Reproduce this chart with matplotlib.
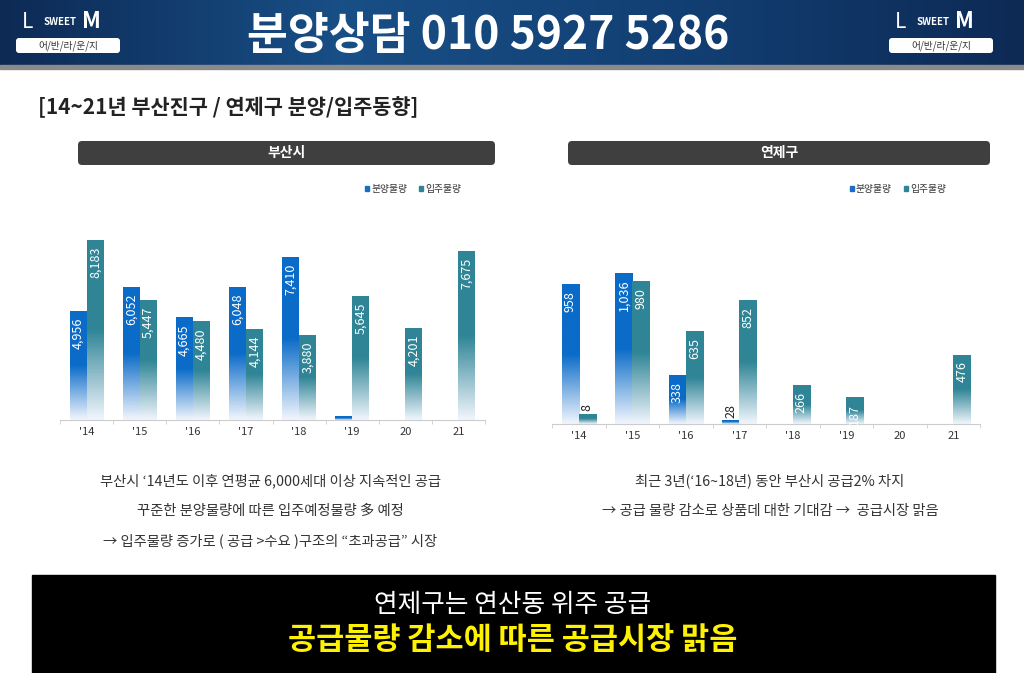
import matplotlib
matplotlib.use("Agg")
import matplotlib.pyplot as plt
from matplotlib import font_manager as fm
import numpy as np
from matplotlib.patches import FancyBboxPatch, Rectangle
from matplotlib.colors import LinearSegmentedColormap, to_rgb

_names = sorted({f.name for f in fm.fontManager.ttflist})
_cjk = [n for n in _names if "CJK" in n and "KR" in n] or [n for n in _names if "CJK" in n]
plt.rcParams["font.family"] = (_cjk[:1] or ["DejaVu Sans"]) + ["DejaVu Sans"]

years = ["'14", "'15", "'16", "'17", "'18", "'19", "20", "21"]
busan_sale = [4956, 6052, 4665, 6048, 7410, 180, 0, 0]
busan_move = [8183, 5447, 4480, 4144, 3880, 5645, 4201, 7675]
yj_sale = [958, 1036, 338, 28, 0, 0, 0, 0]
yj_move = [70, 980, 635, 852, 266, 187, 0, 476]
busan_sale_lbl = ["4,956", "6,052", "4,665", "6,048", "7,410", "", "", ""]
busan_move_lbl = ["8,183", "5,447", "4,480", "4,144", "3,880", "5,645", "4,201", "7,675"]
yj_sale_lbl = ["958", "1,036", "338", "28", "", "", "", ""]
yj_move_lbl = ["8", "980", "635", "852", "266", "187", "", "476"]

W, H = 1024, 673
fig = plt.figure(figsize=(W/100, H/100), dpi=100)
bg = fig.add_axes([0, 0, 1, 1]); bg.set_xlim(0, W); bg.set_ylim(H, 0); bg.axis("off")

# header
grad = np.linspace(0, 1, 256).reshape(1, -1)
hc = LinearSegmentedColormap.from_list("h", ["#0d2a55", "#184f86", "#123f73", "#0d2a55"])
bg.imshow(grad, extent=[0, W, 65, 0], cmap=hc, aspect="auto", zorder=0)
bg.add_patch(Rectangle((0, 65), W, 4, color="#8a8a8a", zorder=1))
bg.text(488, 36, "분양상담 010 5927 5286", color="white", fontsize=32, fontweight="bold",
        ha="center", va="center", zorder=2)
for x0 in (12, 885):
    bg.text(x0 + 10, 22, "L", color="white", fontsize=15, style="italic", va="center", zorder=2)
    bg.text(x0 + 32, 22, "SWEET", color="white", fontsize=7, fontweight="bold", va="center", zorder=2)
    bg.text(x0 + 70, 22, "M", color="white", fontsize=16, fontweight="bold", va="center", zorder=2)
    bg.add_patch(FancyBboxPatch((x0 + 4, 38), 104, 15, boxstyle="round,pad=0,rounding_size=3",
                                fc="white", ec="none", zorder=2))
    bg.text(x0 + 56, 45.5, "어/반/라/운/지", color="#333", fontsize=7, ha="center", va="center", zorder=3)

bg.text(38, 107, "[14~21년 부산진구 / 연제구 분양/입주동향]", fontsize=15, fontweight="bold",
        va="center", color="#222")

for (x0, x1, t) in ((78, 495, "부산시"), (568, 990, "연제구")):
    bg.add_patch(FancyBboxPatch((x0, 141), x1 - x0, 24, boxstyle="round,pad=0,rounding_size=4",
                                fc="#3f3f3f", ec="none"))
    bg.text((x0 + x1) / 2, 153, t, color="white", fontsize=10, fontweight="bold", ha="center", va="center")

# legends
for lx in (365, 850):
    bg.add_patch(Rectangle((lx, 186), 4, 5, color="#1a6fc4"))
    bg.text(lx + 6, 189, "분양물량", fontsize=7, va="center", color="#333")
    bg.add_patch(Rectangle((lx + 54, 186), 4, 5, color="#2f8596"))
    bg.text(lx + 60, 189, "입주물량", fontsize=7, va="center", color="#333")

def gbar(ax, xs, vals, color, width):
    c = to_rgb(color)
    cm = LinearSegmentedColormap.from_list("g", [(0.94, 0.96, 0.99), c, c])
    bars = ax.bar(xs, vals, width, color="none", edgecolor="none")
    g = np.linspace(0, 1, 100).reshape(-1, 1)
    for b in bars:
        if b.get_height() <= 0:
            continue
        im = ax.imshow(g, extent=[b.get_x(), b.get_x() + b.get_width(), 0, b.get_height()],
                       cmap=cm, origin="lower", aspect="auto", zorder=2)
        im.set_clip_path(b)
    return bars

def panel(rect, sale, move, slbl, mlbl, ymax):
    ax = fig.add_axes(rect)
    x = np.arange(len(years))
    w = 0.32
    gbar(ax, x - w / 2, sale, "#0a6bc8", w)
    gbar(ax, x + w / 2, move, "#2f8596", w)
    for i in range(len(years)):
        for xx, v, l in ((x[i] - w / 2, sale[i], slbl[i]), (x[i] + w / 2, move[i], mlbl[i])):
            if not l:
                continue
            if v < ymax * 0.08:
                ax.text(xx, v + ymax * 0.01, l, rotation=90, ha="center", va="bottom", fontsize=9, color="#222", zorder=3)
            else:
                ax.text(xx, v - ymax * 0.03, l, rotation=90, ha="center", va="top", fontsize=9, color="white", zorder=3)
    ax.set_xlim(-0.5, len(years) - 0.5)
    ax.set_ylim(0, ymax)
    ax.set_xticks(x); ax.set_xticklabels(years, fontsize=8, color="#333")
    ax.set_xticks(np.arange(len(years) + 1) - 0.5, minor=True)
    ax.tick_params(axis="x", which="major", length=0, pad=5)
    ax.tick_params(axis="x", which="minor", length=3, color="#ccc")
    ax.set_yticks([])
    for s in ("top", "right", "left"):
        ax.spines[s].set_visible(False)
    ax.spines["bottom"].set_color("#cccccc")
    ax.patch.set_alpha(0)

panel([60 / W, 1 - 420 / H, 425 / W, 230 / H], busan_sale, busan_move, busan_sale_lbl, busan_move_lbl, 10450)
panel([552 / W, 1 - 424 / H, 428 / W, 234 / H], yj_sale, yj_move, yj_sale_lbl, yj_move_lbl, 1605)

for y, t in ((481, "부산시 ‘14년도 이후 연평균 6,000세대 이상 지속적인 공급"),
             (511, "꾸준한 분양물량에 따른 입주예정물량 多 예정"),
             (541, "→ 입주물량 증가로 ( 공급 >수요 )구조의 “초과공급” 시장")):
    bg.text(270, y, t, fontsize=10.3, ha="center", va="center", color="#333")
for y, t in ((481, "최근 3년(‘16~18년) 동안 부산시 공급2% 차지"),
             (511, "→ 공급 물량 감소로 상품데 대한 기대감 →  공급시장 맑음")):
    bg.text(770, y, t, fontsize=10.3, ha="center", va="center", color="#333")

bg.add_patch(Rectangle((32, 575), 963, 98, color="black"))
bg.text(513, 605, "연제구는 연산동 위주 공급", color="white", fontsize=18.5, ha="center", va="center")
bg.text(513, 640, "공급물량 감소에 따른 공급시장 맑음", color="#fff200", fontsize=22,
        fontweight="bold", ha="center", va="center")

fig.savefig("out.png", dpi=100)
